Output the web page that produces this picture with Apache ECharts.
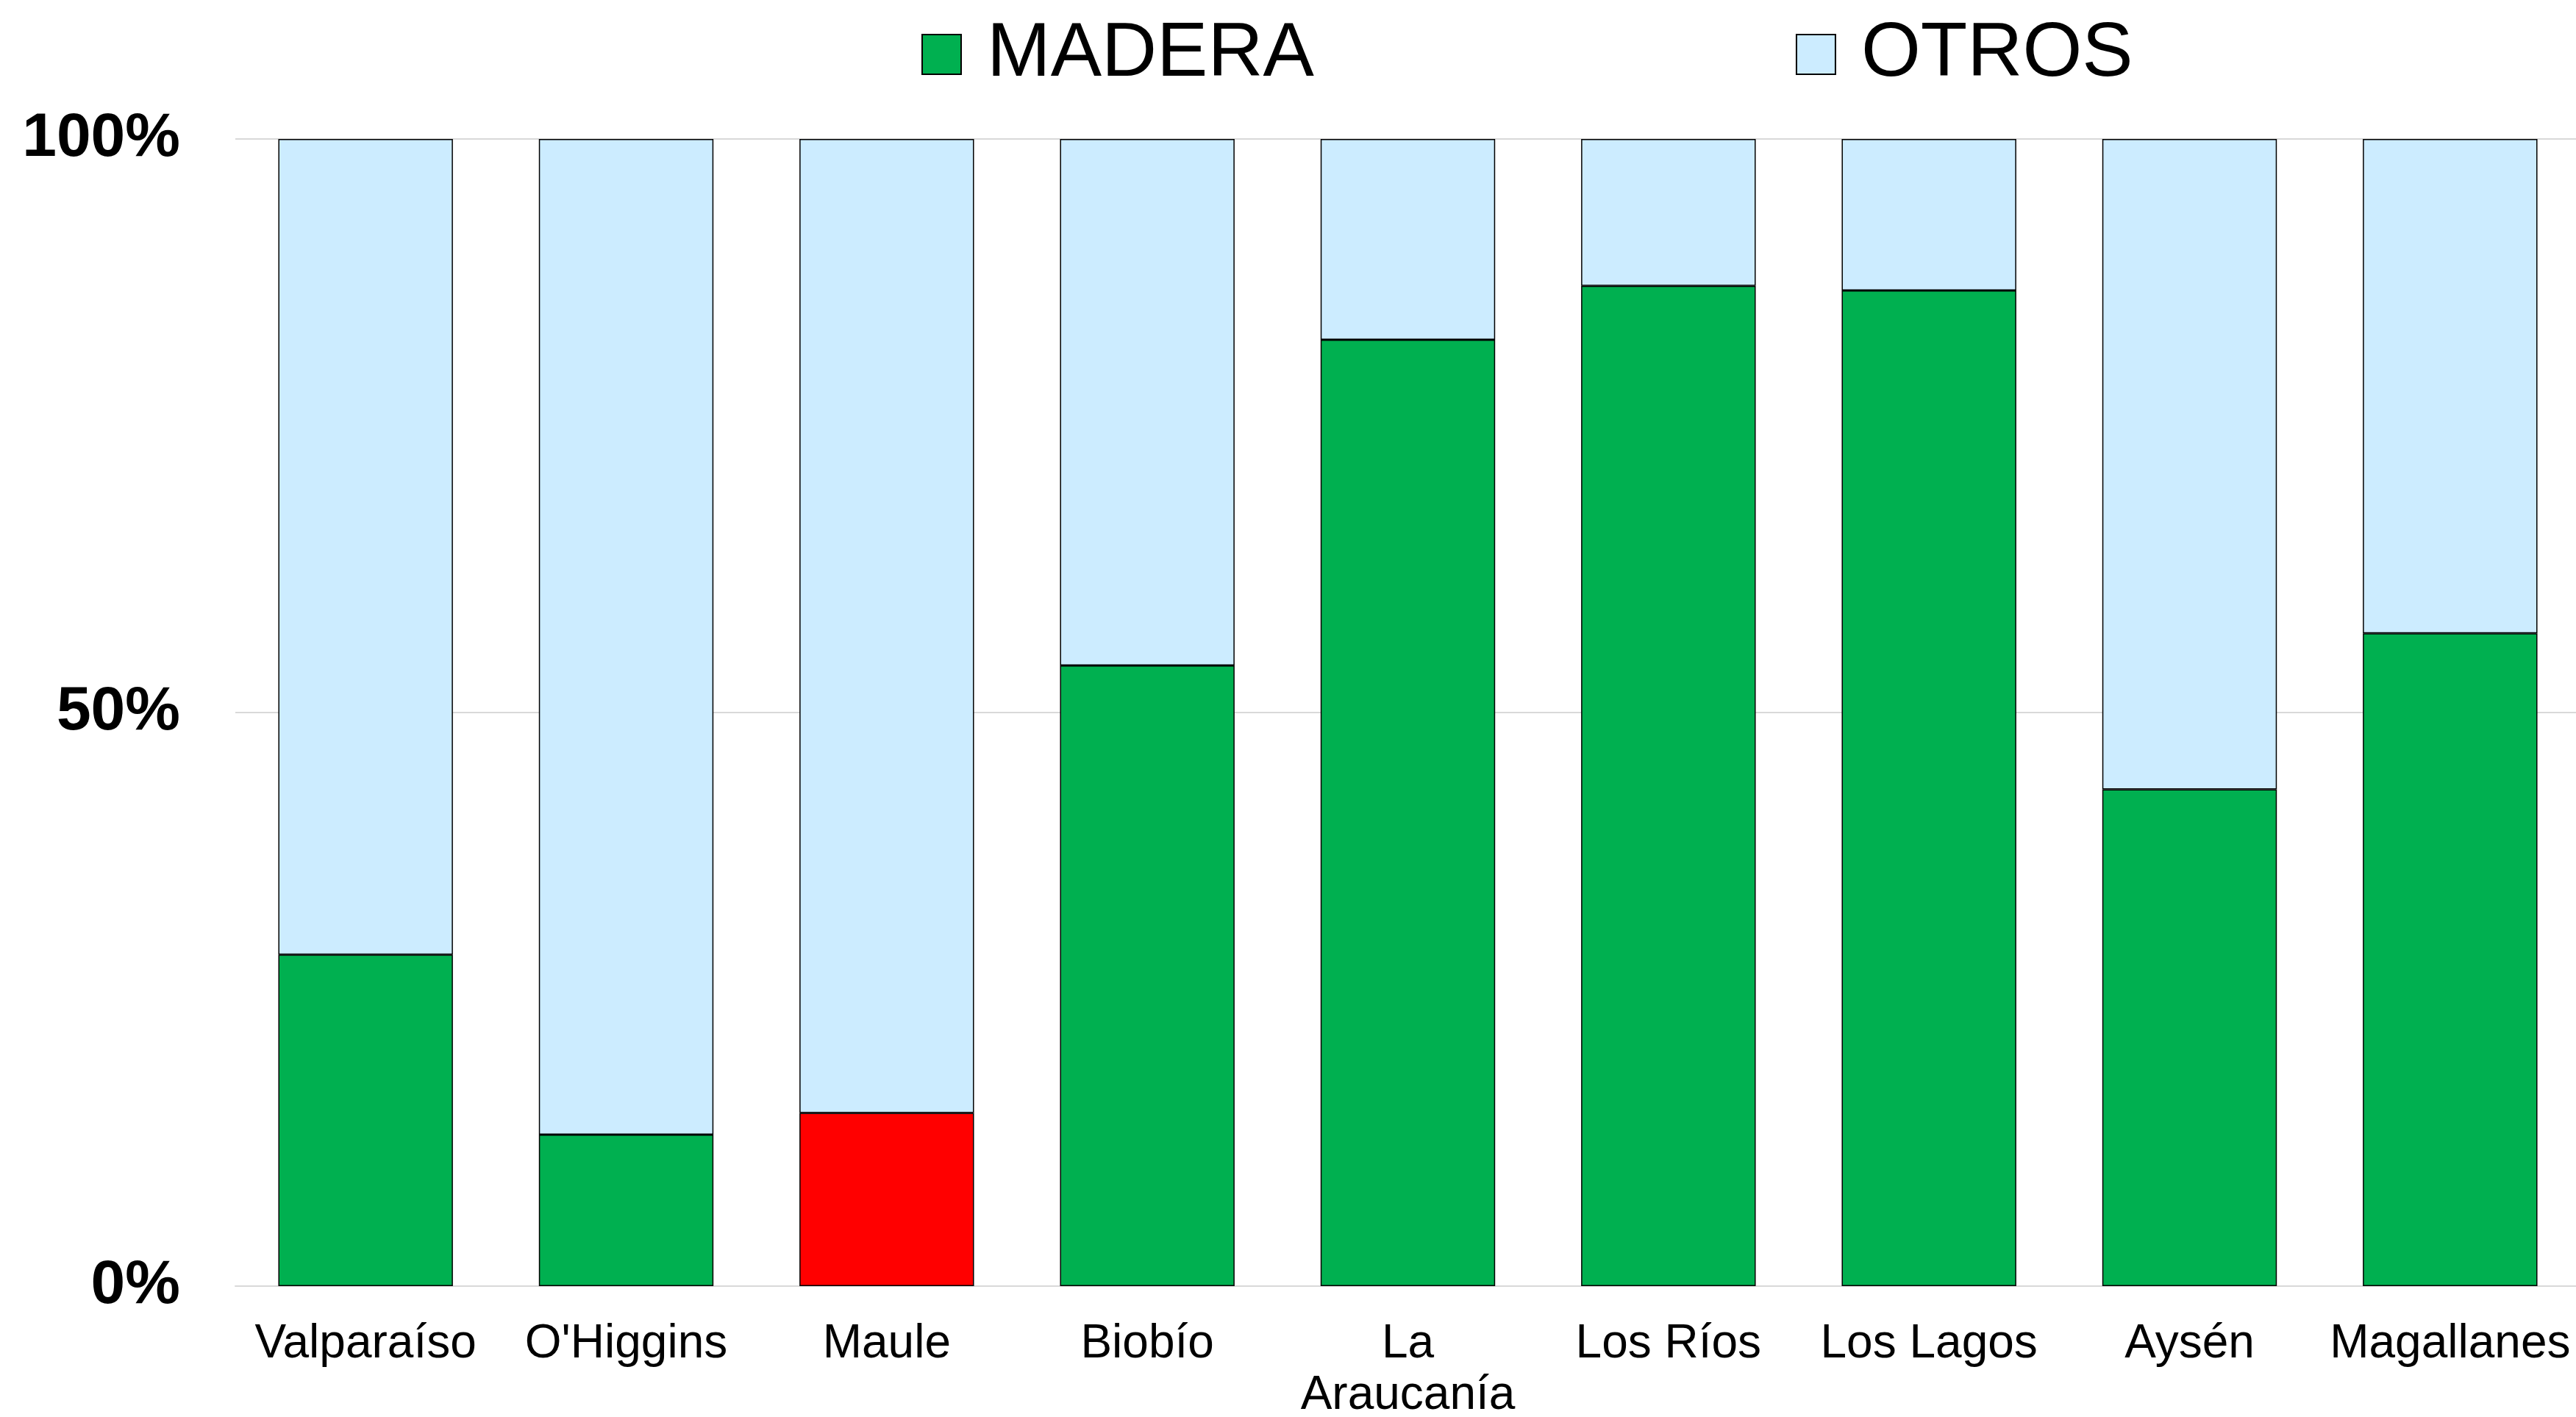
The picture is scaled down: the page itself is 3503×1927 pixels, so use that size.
<!DOCTYPE html>
<html>
<head>
<meta charset="utf-8">
<script src="https://cdn.jsdelivr.net/npm/echarts@6/dist/echarts.min.js"></script>
<style>
html,body{margin:0;padding:0;background:#fff;}
#chart{width:3503px;height:1927px;}
</style>
</head>
<body>
<div id="chart"></div>
<script>
// datos por region (% del total)
var regiones = ['Valparaíso', "O'Higgins", 'Maule', 'Biobío', 'La\nAraucanía', 'Los Ríos', 'Los Lagos', 'Aysén', 'Magallanes'];
var madera = [28.9, 13.2, 15.1, 54.1, 82.5, 87.2, 86.8, 43.3, 56.9];
var otros = [71.1, 86.8, 84.9, 45.9, 17.5, 12.8, 13.2, 56.7, 43.1];
var yTicks = [0, 50, 100];

var destacada = 2; // Maule en rojo
var fuente = '"Liberation Sans", Arial, sans-serif';

var chart = echarts.init(document.getElementById('chart'));

var maderaData = madera.map(function (v, i) {
    if (i == destacada) {
        return {value: v, itemStyle: {color: '#FF0000'}};
    }
    return v;
});

var option = {
    backgroundColor: '#fff',
    animation: false,
    textStyle: {fontFamily: fuente},
    legend: {
        left: 1248,
        top: 14,
        itemGap: 655,
        itemWidth: 53,
        itemHeight: 54,
        icon: 'rect',
        textStyle: {fontSize: 104, color: '#000', fontFamily: fuente, lineHeight: 110, padding: [0, 0, 0, 30]},
        data: ['MADERA', 'OTROS']
    },
    grid: {
        left: 320,
        right: -6,
        top: 189,
        bottom: 178,
        containLabel: false,
        outerBoundsMode: 'none'
    },
    xAxis: {
        type: 'category',
        data: regiones,
        axisTick: {show: false},
        axisLine: {lineStyle: {color: '#D9D9D9', width: 2}},
        axisLabel: {
            interval: 0,
            fontSize: 64,
            lineHeight: 70,
            color: '#000',
            margin: 44,
            fontFamily: fuente
        }
    },
    yAxis: {
        type: 'value',
        min: yTicks[0],
        max: yTicks[yTicks.length - 1],
        interval: yTicks[1] - yTicks[0],
        axisLine: {show: false},
        axisTick: {show: false},
        splitLine: {lineStyle: {color: '#D9D9D9', width: 2}},
        axisLabel: {
            formatter: '{value}%',
            fontSize: 84,
            fontWeight: 'bold',
            color: '#000',
            margin: 75,
            fontFamily: fuente
        }
    },
    series: [{
        name: 'MADERA',
        type: 'bar',
        stack: 'total',
        barCategoryGap: '33%',
        itemStyle: {color: '#00B050', borderColor: '#000', borderWidth: 1.5},
        data: maderaData
    }, {
        name: 'OTROS',
        type: 'bar',
        stack: 'total',
        barCategoryGap: '33%',
        itemStyle: {color: '#CCECFF', borderColor: '#000', borderWidth: 1.5},
        data: otros
    }]
};

chart.setOption(option);
</script>
</body>
</html>
